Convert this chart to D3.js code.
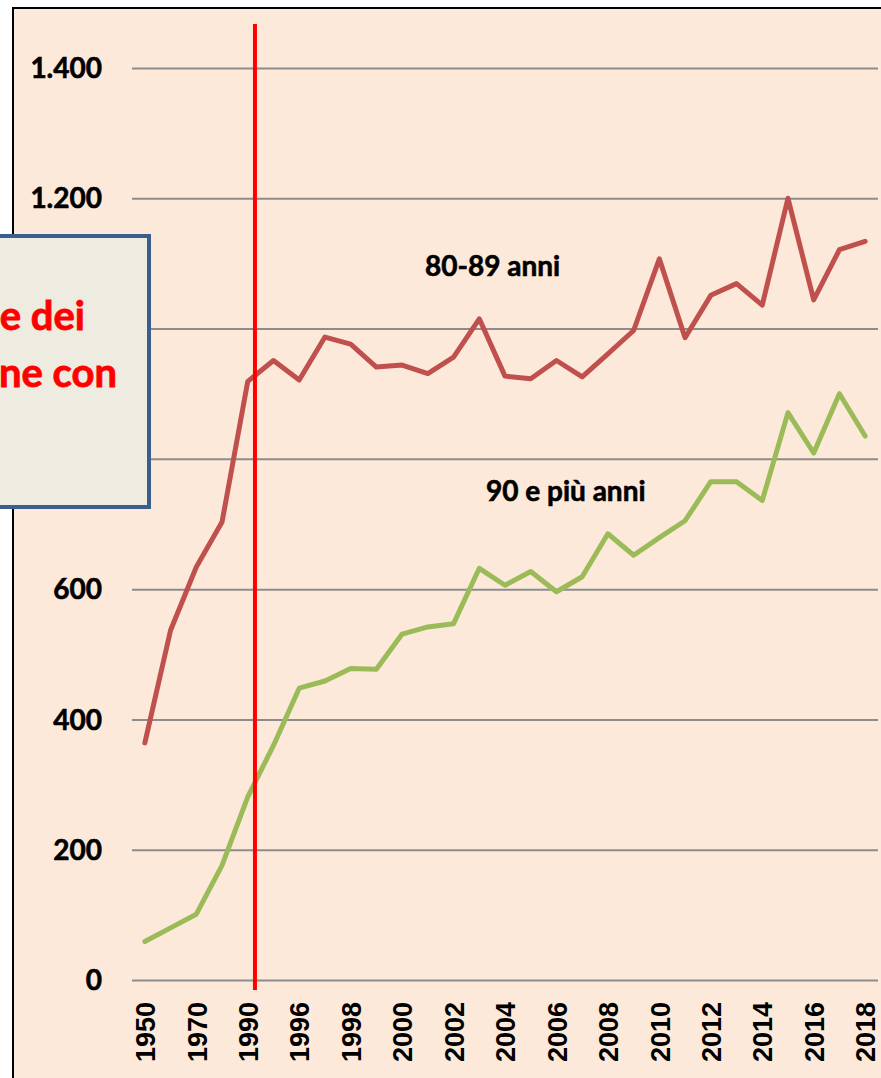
<!DOCTYPE html>
<html>
<head>
<meta charset="utf-8">
<script src="https://cdn.jsdelivr.net/npm/d3@7"></script>
<style>
  html, body { margin: 0; padding: 0; background: #fff; overflow: hidden; }
</style>
</head>
<body>
<div id="chart"></div>
<script>
// Data
const years = ["1950","1960","1970","1980","1990","1995","1996","1997","1998","1999","2000","2001","2002","2003","2004","2005","2006","2007","2008","2009","2010","2011","2012","2013","2014","2015","2016","2017","2018"];
const anni80_89 = [364,537,634,703,919,951,921,987,976,941,944,931,956,1015,927,923,951,926,961,997,1107,986,1051,1069,1036,1200,1044,1121,1134];
const anni90piu = [59,80,101,176,281,360,448,459,478,477,531,542,547,632,606,627,596,619,685,652,679,705,765,765,736,871,809,900,835];
const yTicks = [0,200,400,600,800,1000,1200,1400];
// 800 and 1.000 are hidden behind the text box in the original
const yTickLabels = [0,200,400,600,1200,1400];
const seriesLabels = ["80-89 anni", "90 e più anni"];
const boxLines = ["e dei", "ne con"];

const width = 881, height = 1078;

const svg = d3.select("#chart")
    .append("svg")
    .attr("width", width)
    .attr("height", height)
    .style("display", "block");

// Chart area background + frame
svg.append("rect")
    .attr("x", 13).attr("y", 8)
    .attr("width", width).attr("height", height)
    .attr("fill", "#fde9d9")
    .attr("stroke", "#000")
    .attr("stroke-width", 2);

// Scales
const xScale = d3.scalePoint()
    .domain(years)
    .range([132, 878])
    .padding(0.5);

const yScale = d3.scaleLinear()
    .domain([0, 1400])
    .range([980, 68]);

const itFormat = d3.formatLocale({ decimal: ",", thousands: ".", grouping: [3], currency: ["€", ""] }).format(",d");

// Gridlines
const grid = svg.append("g")
    .attr("transform", "translate(132,0)")
    .call(d3.axisLeft(yScale).tickValues(yTicks).tickSize(-746).tickFormat(""));
grid.select(".domain").remove();
grid.selectAll("line")
    .attr("stroke", "#8c8c8c")
    .attr("stroke-width", 2);

// Y labels
svg.append("g")
    .selectAll("text")
    .data(yTickLabels)
    .join("text")
    .attr("x", 102)
    .attr("y", d => yScale(d))
    .attr("dy", "0.36em")
    .attr("text-anchor", "end")
    .style("font-family", "Lato, 'Open Sans', sans-serif")
    .style("font-weight", "bold")
    .style("font-size", "28px")
    .attr("fill", "#000")
    .attr("stroke", "#000")
    .attr("stroke-width", 0.6)
    .text(d => itFormat(d));

// X axis labels (every other year)
const xAxis = svg.append("g")
    .attr("transform", "translate(0,980)")
    .call(d3.axisBottom(xScale)
        .tickValues(years.filter((d, i) => i % 2 === 0))
        .tickSize(0));
xAxis.select(".domain").remove();
xAxis.selectAll("text")
    .attr("transform", "rotate(-90)")
    .attr("x", -22)
    .attr("y", 0)
    .attr("dy", "0.36em")
    .attr("text-anchor", "end")
    .style("font-family", "'Liberation Sans', Arial, sans-serif")
    .style("font-weight", "bold")
    .style("font-size", "27px")
    .attr("fill", "#000");

// Lines
const line = d3.line()
    .x((d, i) => xScale(years[i]))
    .y(d => yScale(d));

svg.append("path")
    .datum(anni80_89)
    .attr("d", line)
    .attr("fill", "none")
    .attr("stroke", "#c0504d")
    .attr("stroke-width", 5)
    .attr("stroke-linejoin", "round")
    .attr("stroke-linecap", "round");

svg.append("path")
    .datum(anni90piu)
    .attr("d", line)
    .attr("fill", "none")
    .attr("stroke", "#9bbb59")
    .attr("stroke-width", 5)
    .attr("stroke-linejoin", "round")
    .attr("stroke-linecap", "round");

// Series labels
svg.append("text")
    .attr("x", 425)
    .attr("y", 276)
    .style("font-family", "Lato, 'Open Sans', sans-serif")
    .style("font-weight", "bold")
    .style("font-size", "28px")
    .attr("fill", "#000")
    .attr("stroke", "#000")
    .attr("stroke-width", 0.6)
    .text(seriesLabels[0]);

svg.append("text")
    .attr("x", 486)
    .attr("y", 501)
    .style("font-family", "Lato, 'Open Sans', sans-serif")
    .style("font-weight", "bold")
    .style("font-size", "28px")
    .attr("fill", "#000")
    .attr("stroke", "#000")
    .attr("stroke-width", 0.6)
    .text(seriesLabels[1]);

// Red vertical marker just after 1990
const markerX = xScale("1990") + xScale.step() * 0.28;
svg.append("line")
    .attr("x1", markerX).attr("x2", markerX)
    .attr("y1", 24).attr("y2", 990)
    .attr("stroke", "#ff0000")
    .attr("stroke-width", 4);

// Annotation box (partially off-screen)
svg.append("rect")
    .attr("x", -200).attr("y", 236)
    .attr("width", 349).attr("height", 271)
    .attr("fill", "#eeebe0")
    .attr("stroke", "#3b5f8c")
    .attr("stroke-width", 4);

svg.append("g")
    .selectAll("text")
    .data(boxLines)
    .join("text")
    .attr("x", (d, i) => i === 0 ? 85 : 117)
    .attr("y", (d, i) => 330 + i * 57)
    .attr("text-anchor", "end")
    .style("font-family", "Lato, 'Open Sans', sans-serif")
    .style("font-weight", "bold")
    .style("font-size", "40px")
    .attr("fill", "#ff0000")
    .attr("stroke", "#ff0000")
    .attr("stroke-width", 0.8)
    .text(d => d);
</script>
</body>
</html>
